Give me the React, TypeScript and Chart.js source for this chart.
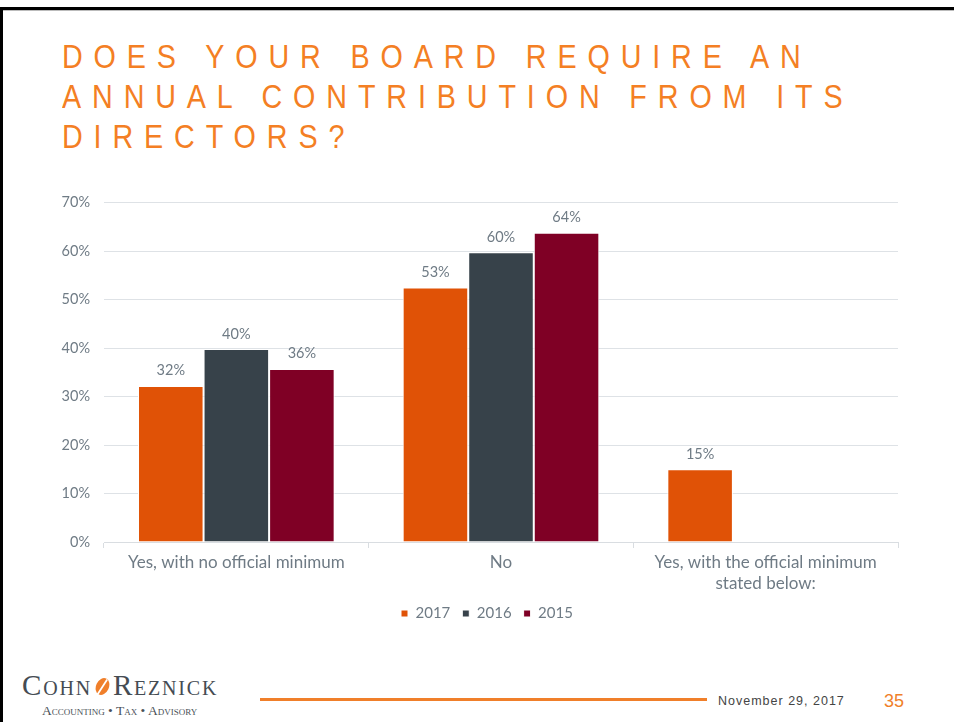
import React, { useEffect, useRef } from "react";
import { Chart, registerables } from "chart.js";

Chart.register(...registerables);

const categories: (string | string[])[] = [
  "Yes, with no official minimum",
  "No",
  ["Yes, with the official minimum", "stated below:"],
];
const seriesNames = ["2017", "2016", "2015"];
const values2017 = [32.2, 52.5, 15];
const values2016 = [39.8, 59.8, null];
const values2015 = [35.7, 63.8, null];
const seriesColors = ["#E05206", "#37424A", "#7F0025"];
const yTicks = [0, 10, 20, 30, 40, 50, 60, 70];

const titleLines = ["DOES YOUR BOARD REQUIRE AN", "ANNUAL CONTRIBUTION FROM ITS", "DIRECTORS?"];

const FONT = "Lato, 'DejaVu Sans', sans-serif";
const TEXT_GREY = "#6F7B85";

const valueLabels = {
  id: "valueLabels",
  afterDatasetsDraw(chart: any) {
    const ctx = chart.ctx;
    ctx.save();
    ctx.font = `14.5px ${FONT}`;
    ctx.fillStyle = TEXT_GREY;
    ctx.textAlign = "center";
    ctx.textBaseline = "bottom";
    chart.data.datasets.forEach((ds: any, i: number) => {
      const meta = chart.getDatasetMeta(i);
      meta.data.forEach((bar: any, j: number) => {
        const v = ds.data[j];
        if (v == null) return;
        ctx.fillText(Math.round(v) + "%", bar.x, bar.y - 8);
      });
    });
    ctx.restore();
  },
};

// centre the legend under the plot area rather than the whole canvas
const legendShift = {
  id: "legendShift",
  afterLayout(chart: any) {
    if (chart.legend) chart.legend.left += chart.chartArea.left * 0.73;
  },
};

function BarChart() {
  const ref = useRef<HTMLCanvasElement | null>(null);
  useEffect(() => {
    if (!ref.current) return;
    const data = [values2017, values2016, values2015];
    const chart = new Chart(ref.current, {
      type: "bar",
      data: {
        labels: categories as any,
        datasets: seriesNames.map((n, i) => ({
          label: n,
          data: data[i] as any,
          backgroundColor: seriesColors[i],
          borderColor: "#FFFFFF",
          borderWidth: 1,
          barPercentage: 1,
          categoryPercentage: 0.743,
        })),
      },
      options: {
        animation: false,
        responsive: false,
        maintainAspectRatio: false,
        layout: { padding: { top: 17, right: 56, left: 0, bottom: 0 } },
        plugins: {
          tooltip: { enabled: false },
          legend: {
            position: "bottom",
            labels: {
              usePointStyle: true,
              pointStyle: "rect",
              boxWidth: 7,
              boxHeight: 7,
              padding: 12,
              color: TEXT_GREY,
              font: { family: FONT, size: 15 },
            },
          },
        },
        scales: {
          x: {
            grid: {
              display: true,
              offset: true,
              drawOnChartArea: false,
              drawTicks: true,
              tickLength: 6,
              color: "#D9DDE1",
            },
            border: { display: true, color: "#D9DDE1" },
            ticks: {
              color: TEXT_GREY,
              font: { family: FONT, size: 17, lineHeight: 1.25 },
              padding: 4,
              maxRotation: 0,
            },
            afterFit: (s: any) => {
              s.height = 52;
            },
          },
          y: {
            min: 0,
            max: 70,
            afterBuildTicks: (s: any) => {
              s.ticks = yTicks.map((v) => ({ value: v }));
            },
            grid: { color: "#DEE2E6", drawTicks: false },
            border: { display: false },
            ticks: {
              color: TEXT_GREY,
              font: { family: FONT, size: 14.5 },
              padding: 14,
              callback: (v: any) => v + "%",
            },
            afterFit: (s: any) => {
              s.width = 104;
            },
          },
        },
      },
      plugins: [valueLabels, legendShift],
    });
    return () => chart.destroy();
  }, []);
  return (
    <canvas
      ref={ref}
      width={954}
      height={451}
      style={{ position: "absolute", left: 0, top: 180, width: 954, height: 451 }}
    />
  );
}

function Leaf() {
  return (
    <svg width="19" height="21" viewBox="0 0 16 18" style={{ verticalAlign: "-2px", margin: "0 1px" }}>
      <ellipse cx="8" cy="9" rx="5.5" ry="7.5" transform="rotate(25 8 9)" fill="#F07F2A" />
      <line x1="3" y1="17" x2="12" y2="3" stroke="#FFFFFF" strokeWidth="1.5" />
    </svg>
  );
}

export default function App() {
  return (
    <div
      style={{
        position: "fixed",
        left: 0,
        top: 0,
        width: 954,
        height: 722,
        background: "#FFFFFF",
        overflow: "hidden",
      }}
    >
      <div style={{ position: "absolute", left: 0, top: 7, width: 954, height: 3, background: "#000" }} />
      <div style={{ position: "absolute", left: 0, top: 10, width: 954, height: 1, background: "#BBBBBB" }} />
      <div style={{ position: "absolute", left: 0, top: 7, width: 3, height: 715, background: "#000" }} />

      {titleLines.map((t, i) => (
        <div
          key={i}
          style={{
            position: "absolute",
            left: 62,
            top: 37 + i * 40,
            whiteSpace: "nowrap",
            fontFamily: "'Liberation Sans', Arial, sans-serif",
            fontSize: 33,
            lineHeight: "40px",
            letterSpacing: "12.5px",
            color: "#F47F24",
            transform: "scaleX(0.87)",
            transformOrigin: "left top",
          }}
        >
          {t}
        </div>
      ))}

      <BarChart />

      <div
        style={{
          position: "absolute",
          left: 22,
          top: 669,
          whiteSpace: "nowrap",
          fontFamily: "'Liberation Serif', 'DejaVu Serif', serif",
          fontSize: 29,
          lineHeight: "32px",
          fontVariant: "small-caps",
          color: "#454C53",
          letterSpacing: "1.8px",
        }}
      >
        Cohn<Leaf />Reznick
      </div>
      <div
        style={{
          position: "absolute",
          left: 42,
          top: 703,
          whiteSpace: "nowrap",
          fontFamily: "'Liberation Serif', 'DejaVu Serif', serif",
          fontSize: 13.5,
          lineHeight: "16px",
          fontVariant: "small-caps",
          color: "#4A5158",
        }}
      >
        Accounting • Tax • Advisory
      </div>

      <div style={{ position: "absolute", left: 260, top: 698, width: 447, height: 3, background: "#F07F2A" }} />
      <div
        style={{
          position: "absolute",
          left: 718,
          top: 692,
          whiteSpace: "nowrap",
          fontFamily: "'Liberation Sans', Arial, sans-serif",
          fontSize: 12.5,
          lineHeight: "18px",
          letterSpacing: "1px",
          color: "#444",
        }}
      >
        November 29, 2017
      </div>
      <div
        style={{
          position: "absolute",
          left: 884,
          top: 690,
          whiteSpace: "nowrap",
          fontFamily: "'Liberation Sans', Arial, sans-serif",
          fontSize: 18,
          lineHeight: "22px",
          color: "#F07F2A",
        }}
      >
        35
      </div>
    </div>
  );
}
